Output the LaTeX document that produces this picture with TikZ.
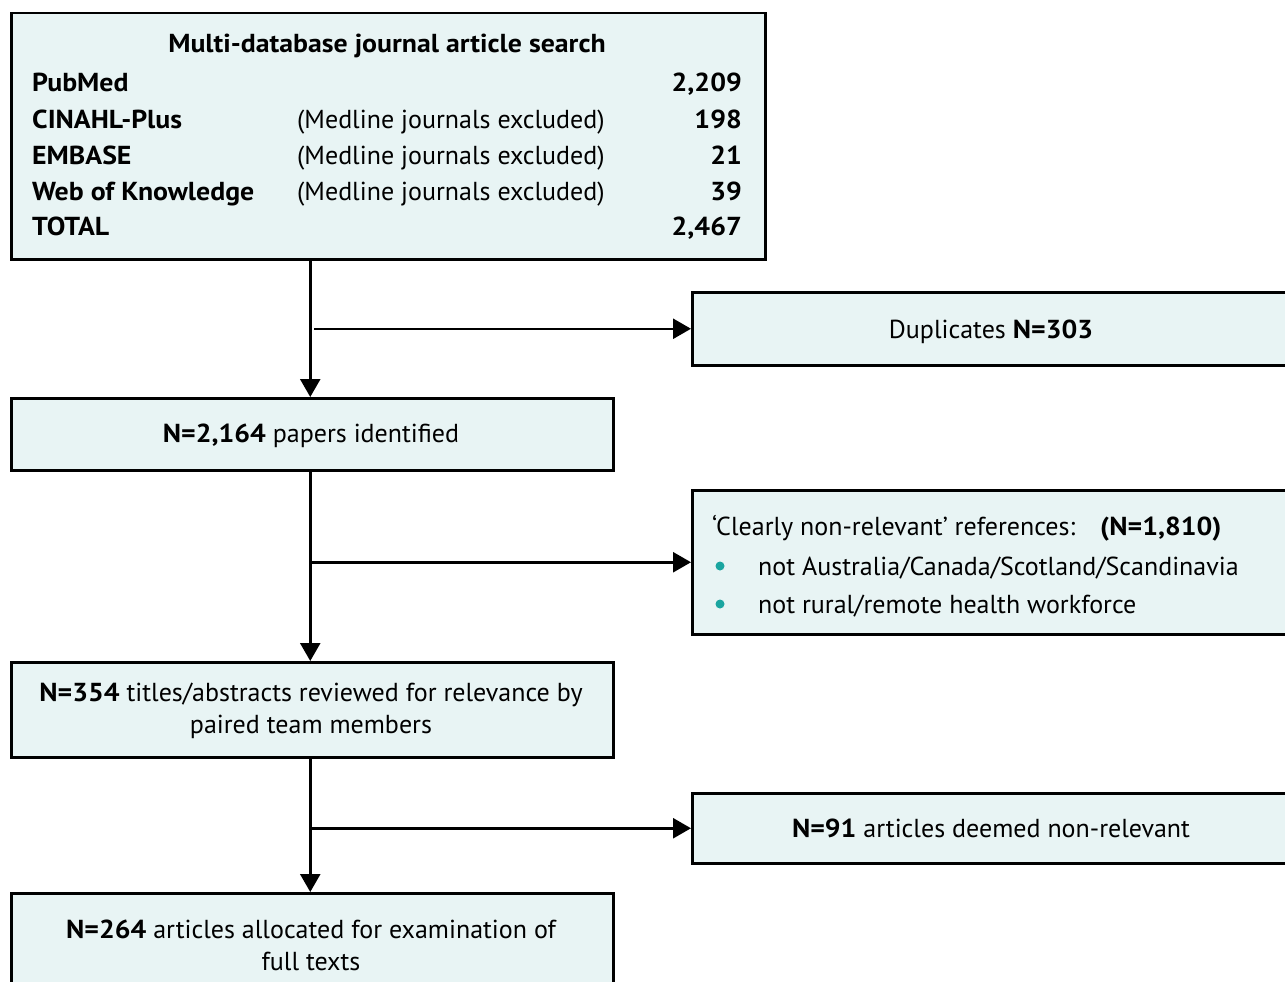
\documentclass[tikz,border=0pt]{standalone}
\usepackage{fontspec}
\setmainfont{PT Sans}[BoldFeatures={FakeStretch=1.07}]
\usetikzlibrary{arrows.meta}
\definecolor{boxfill}{HTML}{E8F4F4}
\definecolor{bullet}{HTML}{1AA5A0}
\tikzset{
  box/.style={draw=black, fill=boxfill, line width=2.5pt, rectangle, inner sep=0pt, anchor=north west},
  txt/.style={inner sep=0pt, font=\fontsize{26}{32}\selectfont},
  btxt/.style={txt, font=\fontsize{26}{32}\selectfont\bfseries},
  arr/.style={line width=2.5pt, -{Triangle[length=18pt,width=20pt]}},
  dot/.style={circle, fill=bullet, inner sep=0pt, minimum size=9pt},
}
\begin{document}
\begin{tikzpicture}[x=1pt,y=-1pt]
\useasboundingbox (0,0) rectangle (1285,982);
\clip (0,0) rectangle (1285,982);
% boxes
\node[box, minimum width=754pt, minimum height=246pt] (search) at (10,12) {};
\node[box, minimum width=610pt, minimum height=73pt] (dup) at (691,291) {};
\node[box, minimum width=602pt, minimum height=72pt] (ident) at (10,397) {};
\node[box, minimum width=610pt, minimum height=144pt] (nonrel) at (691,489) {};
\node[box, minimum width=602pt, minimum height=95pt] (review) at (10,661) {};
\node[box, minimum width=610pt, minimum height=70pt] (deemed) at (691,792) {};
\node[box, minimum width=602pt, minimum height=110pt] (alloc) at (10,892) {};
% search table, rows aligned on their baselines
\node[btxt, anchor=base] (title) at (387,53) {Multi-database journal article search};
\foreach \y/\db/\note/\n [count=\i] in {92/PubMed//2{,}209, 128/CINAHL-Plus/(Medline journals excluded)/198, 164/EMBASE/(Medline journals excluded)/21, 200/Web of Knowledge/(Medline journals excluded)/39, 235/TOTAL//2{,}467}{
  \node[btxt, anchor=base west] (db\i) at (32,\y) {\db};
  \node[txt, anchor=base west] (note\i) at (297,\y) {\note};
  \node[btxt, anchor=base east] (n\i) at (742,\y) {\n};
}
% box texts
\node[txt, anchor=base] (duptxt) at (991,338) {Duplicates \textbf{N=303}};
\node[txt, anchor=base] (identtxt) at (311,442) {\textbf{N=2,164} papers identified};
\node[txt, anchor=base west] (nrhead) at (712,535) {‘Clearly non-relevant’ references:};
\node[btxt, anchor=base west] (nrn) at (1100,535) {(N=1,810)};
\node[dot] (d1) at (720,566) {};
\node[txt, anchor=base west] (nr1) at (758,575) {not Australia/Canada/Scotland/Scandinavia};
\node[dot] (d2) at (720,604) {};
\node[txt, anchor=base west] (nr2) at (758,613) {not rural/remote health workforce};
\node[txt, align=center] (reviewtxt) at (311,711) {\textbf{N=354} titles/abstracts reviewed for relevance by\\paired team members};
\node[txt, anchor=base] (deemedtxt) at (991,837) {\textbf{N=91} articles deemed non-relevant};
\node[txt, align=center] (alloctxt) at (311,945) {\textbf{N=264} articles allocated for examination of\\full texts};
% connectors
\draw[arr] ([xshift=-2pt]ident.north |- search.south) -- ([xshift=-2pt]ident.north);
\draw[arr] ([xshift=2pt]ident.north |- dup.west) -- (dup.west);
\draw[arr] ([xshift=-2pt]review.north |- ident.south) -- ([xshift=-2pt]review.north);
\draw[arr] ([xshift=-2pt]review.north |- nonrel.west) -- (nonrel.west);
\draw[arr] ([xshift=-2pt]alloc.north |- review.south) -- ([xshift=-2pt]alloc.north);
\draw[arr] ([xshift=-2pt]alloc.north |- deemed.west) -- (deemed.west);
\end{tikzpicture}
\end{document}
